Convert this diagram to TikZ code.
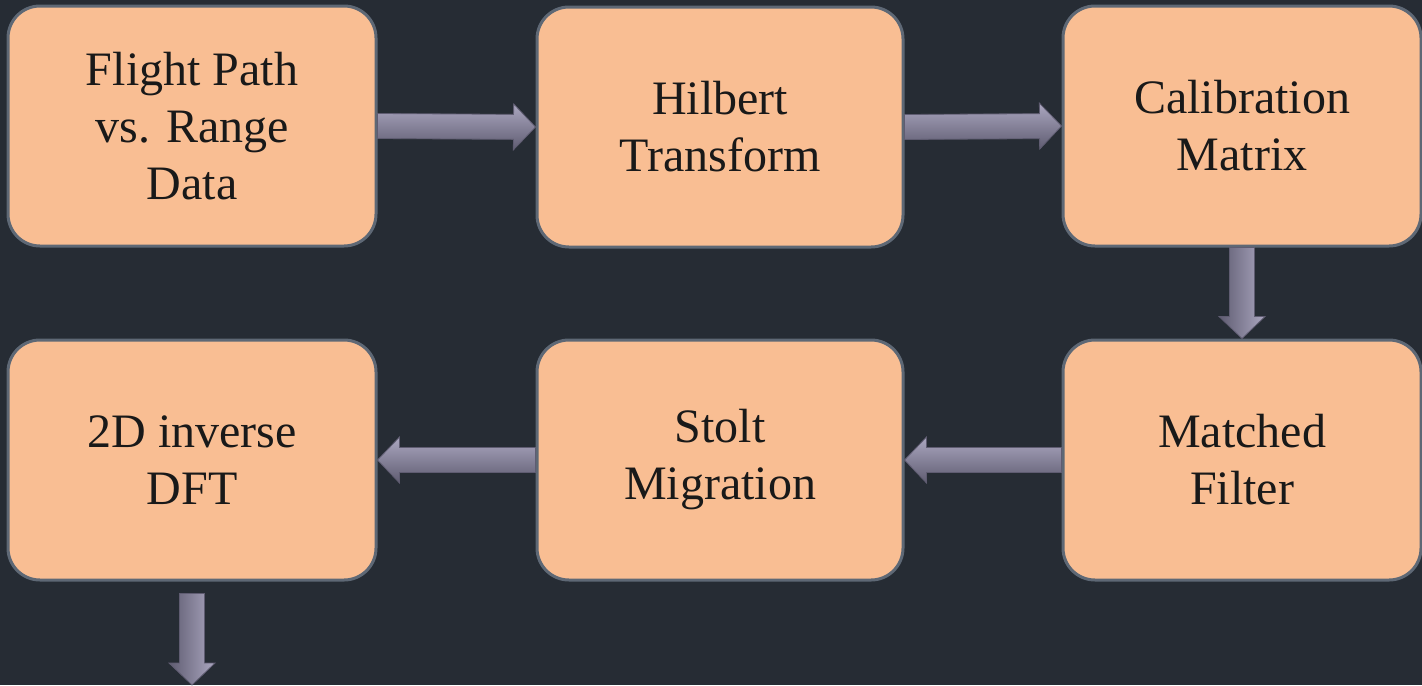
\documentclass[tikz,border=0pt]{standalone}
\usepackage{fontspec}
\setmainfont{Liberation Serif}
\usepackage{tikz}
\usetikzlibrary{positioning,calc}
\definecolor{boardBg}{HTML}{262C34}
\definecolor{boxFill}{HTML}{F9BE93}
\definecolor{boxEdge}{HTML}{5E6875}
\definecolor{arrowLight}{HTML}{ABA7C0}
\definecolor{arrowMid}{HTML}{8F8BA3}
\definecolor{arrowDark}{HTML}{5F5C71}

\tikzset{
  stage/.style={draw=boxEdge, line width=1.5pt, fill=boxFill, rounded corners=16pt,
    minimum width=183pt, minimum height=120pt, align=center, text=black!90,
    font=\fontsize{24}{28.5}\selectfont},
}

% block arrow between two points: #1 start, #2 tip, #3 shading angle
\newcommand{\flowarrow}[3]{%
  \path ($(#2)!11pt!(#1)$) coordinate (neck);
  \shade[top color=arrowLight, middle color=arrowMid, bottom color=arrowDark,
    shading angle=#3, draw=arrowDark, line width=0.4pt]
    ($(#1)!6.25pt!90:(#2)$) -- ($(neck)!6.25pt!90:(#2)$) -- ($(neck)!11.5pt!90:(#2)$)
    -- (#2) -- ($(neck)!11.5pt!-90:(#2)$) -- ($(neck)!6.25pt!-90:(#2)$)
    -- ($(#1)!6.25pt!-90:(#2)$) -- cycle;
}

\begin{document}
\begin{tikzpicture}[x=0.5pt, y=-0.5pt]
\useasboundingbox (0,0) rectangle (1422,685);
\fill[boardBg] (0,0) rectangle (1422,685);

% top row
\node[stage, minimum width=184pt] (fp) at (192,126) {Flight Path\\vs. Range\\Data};
\node[stage] (ht) at (720,127) {Hilbert\\Transform};
\node[stage, minimum width=179pt] (cm) at (1242,126) {Calibration\\Matrix};
% bottom row
\node[stage, minimum width=184pt] (dft) at (192,460) {2D inverse\\DFT};
\node[stage] (sm) at (720,460) {Stolt\\Migration};
\node[stage, minimum width=179pt] (mf) at (1242,460) {Matched\\Filter};

\coordinate (dftgap) at ([yshift=-6pt]dft.south);
\coordinate (final) at (192,685);

\flowarrow{fp.east}{ht.west}{0}
\flowarrow{ht.east}{cm.west}{0}
\flowarrow{cm.south}{mf.north}{-90}
\flowarrow{mf.west}{sm.east}{0}
\flowarrow{sm.west}{dft.east}{0}
\flowarrow{dftgap}{final}{-90}
\end{tikzpicture}
\end{document}
